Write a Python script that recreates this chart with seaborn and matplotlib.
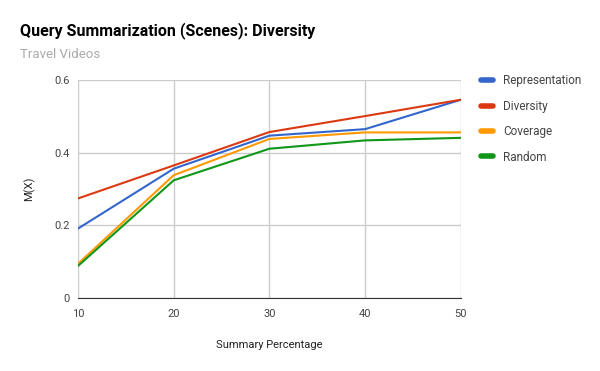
import pandas as pd
import matplotlib.pyplot as plt
import seaborn as sns

# values
percentages = [10, 20, 30, 40, 50]
representation = [0.191, 0.356, 0.447, 0.465, 0.546]
diversity = [0.274, 0.365, 0.457, 0.501, 0.546]
coverage = [0.094, 0.338, 0.438, 0.456, 0.456]
random_sel = [0.088, 0.324, 0.411, 0.434, 0.441]

series = {
    "Representation": representation,
    "Diversity": diversity,
    "Coverage": coverage,
    "Random": random_sel,
}
palette = {
    "Representation": "#3366cc",
    "Diversity": "#dc3912",
    "Coverage": "#ff9900",
    "Random": "#109618",
}

rows = []
for name, vals in series.items():
    for x, y in zip(percentages, vals):
        rows.append({"pct": x, "value": y, "method": name})
df = pd.DataFrame(rows)

sns.set_style("white")
plt.rcParams["font.family"] = ["Roboto", "DejaVu Sans"]

fig = plt.figure(figsize=(6, 3.71), dpi=100)
ax = fig.add_axes([0.13, 0.197, 0.638, 0.587])

sns.lineplot(data=df, x="pct", y="value", hue="method", palette=palette,
             hue_order=list(series.keys()), linewidth=1.5, ax=ax)

ax.set_xlim(10, 50)
ax.set_ylim(0, 0.6)
ax.set_xticks(percentages)
ax.set_yticks([0, 0.2, 0.4, 0.6])
ax.set_yticklabels(["0", "0.2", "0.4", "0.6"])
ax.grid(True, color="#cccccc", linewidth=1)
ax.set_axisbelow(True)
for s in ["top", "right", "left"]:
    ax.spines[s].set_visible(False)
ax.spines["bottom"].set_color("#333333")
ax.tick_params(axis="both", length=0, colors="#444444", labelsize=8)
ax.tick_params(axis="x", pad=8)
ax.tick_params(axis="y", pad=6)

ax.set_xlabel("Summary Percentage", fontsize=8, color="#222222", labelpad=15)
ax.set_ylabel("M(X)", fontsize=8, color="#222222", labelpad=14)

leg = ax.legend(loc="upper left", bbox_to_anchor=(1.025, 1.075), frameon=False,
                fontsize=8.5, handlelength=1.0, handletextpad=0.85,
                labelspacing=1.05, labelcolor="#444444")
for line in leg.get_lines():
    line.set_linewidth(4)

fig.text(0.033, 0.906, "Query Summarization (Scenes): Diversity",
         fontsize=11.5, fontweight="bold", color="#000000")
fig.text(0.033, 0.845, "Travel Videos", fontsize=9.5, color="#aaaaaa")

fig.savefig("out.png", dpi=100)
